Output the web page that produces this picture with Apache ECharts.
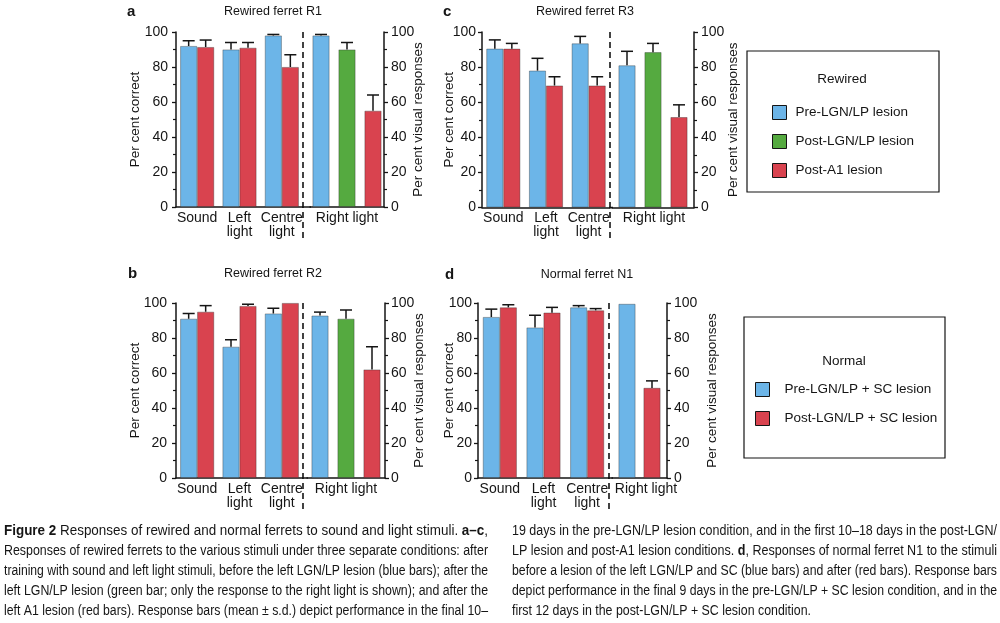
<!DOCTYPE html>
<html><head><meta charset="utf-8">
<script src="https://cdn.jsdelivr.net/npm/echarts@6/dist/echarts.min.js"></script>
<style>html,body{margin:0;padding:0;background:#fff}#chart{width:1000px;height:623px}</style>
</head><body><div id="chart"></div>
<script>
// ---------------- data ----------------
const categoriesLeft = ['Sound', 'Left\nlight', 'Centre\nlight'];
const categoriesRight = ['Right light'];
const rewiredNames = ['Pre-LGN/LP lesion', 'Post-LGN/LP lesion', 'Post-A1 lesion'];
const normalNames = ['Pre-LGN/LP + SC lesion', 'Post-LGN/LP + SC lesion'];
const yMin = 0, yMax = 100, yStep = 20;

// Panel a - Rewired ferret R1
const aPre = [92, 90, 98],     aPreSD = [3, 4, 0.6];
const aPost = [91.4, 91, 80],  aPostSD = [4, 3, 7];
const aRight = [98, 90, 55],   aRightSD = [0.6, 4, 9];
// Panel b - Rewired ferret R2
const bPre = [91, 75, 94],     bPreSD = [3, 4, 3];
const bPost = [95, 98.3, 100], bPostSD = [3.5, 1, 0];
const bRight = [92.8, 91, 62], bRightSD = [2, 5, 13];
// Panel c - Rewired ferret R3
const cPre = [90.5, 78, 93.5], cPreSD = [5, 7, 4];
const cPost = [90.5, 69.5, 69.5], cPostSD = [3, 5, 5];
const cRight = [81, 88.5, 51.5], cRightSD = [8, 5, 7];
// Panel d - Normal ferret N1
const dPre = [92, 86, 97.5],   dPreSD = [4.5, 7, 1];
const dPost = [97.5, 94.5, 95.8], dPostSD = [1.5, 3, 1];
const dRight = [99.5, 51.5],   dRightSD = [0, 4];

const captionLeft = [
  '{b|Figure 2} Responses of rewired and normal ferrets to sound and light stimuli. {b|a\u2013c},',
  'Responses of rewired ferrets to the various stimuli under three separate conditions: after',
  'training with sound and left light stimuli, before the left LGN/LP lesion (blue bars); after the',
  'left LGN/LP lesion (green bar; only the response to the right light is shown); and after the',
  'left A1 lesion (red bars). Response bars (mean \u00b1 s.d.) depict performance in the final 10\u2013'
];
const captionRight = [
  '19 days in the pre-LGN/LP lesion condition, and in the first 10\u201318 days in the post-LGN/',
  'LP lesion and post-A1 lesion conditions. {b|d}, Responses of normal ferret N1 to the stimuli',
  'before a lesion of the left LGN/LP and SC (blue bars) and after (red bars). Response bars',
  'depict performance in the final 9 days in the pre-LGN/LP + SC lesion condition, and in the',
  'first 12 days in the post-LGN/LP + SC lesion condition.'
];

// ---------------- styles / layout ----------------
const FONT = "'Liberation Sans', Arial, Helvetica, sans-serif";
const BLUE = '#6CB5E8', GREEN = '#55AA40', RED = '#D9434F';
const INK = '#151515';
const BAR_W = 17;

const panels = [
  { letter: 'a', title: 'Rewired ferret R1', names: rewiredNames, rightColors: [BLUE, GREEN, RED],
    pre: aPre, preSD: aPreSD, post: aPost, postSD: aPostSD, right: aRight, rightSD: aRightSD,
    L: 176, S: 303, R: 384, T: 32, H: 175, gapR: 9, inset: 7, labelPad: 0,
    letterPos: [127, 12], titlePos: [273, 12], dashEnd: 238, nameGapL: 34, nameGapR: 27, marginL: 8, marginR: 7 },
  { letter: 'b', title: 'Rewired ferret R2', names: rewiredNames, rightColors: [BLUE, GREEN, RED],
    pre: bPre, preSD: bPreSD, post: bPost, postSD: bPostSD, right: bRight, rightSD: bRightSD,
    L: 176, S: 303, R: 385, T: 303, H: 175, gapR: 9, inset: 4, labelPad: 0,
    letterPos: [128, 274], titlePos: [273, 274], dashEnd: 509, nameGapL: 34, nameGapR: 27, marginL: 9, marginR: 6 },
  { letter: 'c', title: 'Rewired ferret R3', names: rewiredNames, rightColors: [BLUE, GREEN, RED],
    pre: cPre, preSD: cPreSD, post: cPost, postSD: cPostSD, right: cRight, rightSD: cRightSD,
    L: 482, S: 610, R: 694, T: 32, H: 175.5, gapR: 9, inset: 2, labelPad: 2,
    letterPos: [443, 12], titlePos: [585, 12], dashEnd: 238, nameGapL: 26, nameGapR: 32, marginL: 6, marginR: 7 },
  { letter: 'd', title: 'Normal ferret N1', names: normalNames, rightColors: [BLUE, RED],
    pre: dPre, preSD: dPreSD, post: dPost, postSD: dPostSD, right: dRight, rightSD: dRightSD,
    L: 478, S: 609, R: 667, T: 303, H: 175, gapR: 8, inset: 3, labelPad: 13,
    letterPos: [445, 275], titlePos: [587, 275], dashEnd: 509, nameGapL: 22, nameGapR: 38, marginL: 6, marginR: 7 }
];

const axisLineStyle = { color: INK, width: 1.5 };
function yAxisCfg(gridIndex, position, name, nameGap, margin) {
  return {
    gridIndex, type: 'value', position, min: yMin, max: yMax, interval: yStep,
    name, nameLocation: 'middle', nameGap, nameRotate: 90, nameMoveOverlap: false,
    nameTextStyle: { fontFamily: FONT, fontSize: 13.5, color: INK },
    axisLine: { show: true, lineStyle: axisLineStyle },
    axisTick: { show: true, length: 4, lineStyle: { color: INK, width: 1.3 } },
    minorTick: { show: true, splitNumber: 2, length: 3, lineStyle: { color: INK, width: 1.2 } },
    splitLine: { show: false },
    axisLabel: { fontFamily: FONT, fontSize: 14, color: INK, margin }
  };
}
function xAxisCfg(gridIndex, data, labelPad) {
  return {
    gridIndex, type: 'category', data,
    axisLine: { show: true, lineStyle: axisLineStyle },
    axisTick: { show: false },
    axisLabel: { fontFamily: FONT, fontSize: 14, lineHeight: 14, color: INK, margin: 4, interval: 0,
      padding: [0, 0, 0, labelPad || 0] }
  };
}
function errRender(n, gapPx) {
  return function (params, api) {
    const sd = api.value(2);
    if (!(sd > 0)) return null;
    const slot = api.value(3);
    const base = api.coord([api.value(0), api.value(1)]);
    const top = api.coord([api.value(0), api.value(1) + sd]);
    const cx = base[0] + (slot - (n - 1) / 2) * (BAR_W + gapPx);
    const st = { stroke: INK, lineWidth: 1.5 };
    return { type: 'group', children: [
      { type: 'line', shape: { x1: cx, y1: base[1], x2: cx, y2: top[1] }, style: st },
      { type: 'line', shape: { x1: cx - 6, y1: top[1], x2: cx + 6, y2: top[1] }, style: st }
    ] };
  };
}
const barItem = c => ({ color: c, borderColor: 'rgba(40,40,40,0.45)', borderWidth: 0.8 });

const grids = [], xAxes = [], yAxes = [], series = [], graphics = [];
panels.forEach((p, k) => {
  const gl = 2 * k, gr = 2 * k + 1;
  const rs = p.S + p.inset;   // right section starts just after the divider
  grids.push({ left: p.L, top: p.T, width: p.S - p.L, height: p.H, containLabel: false, outerBoundsMode: 'none' });
  grids.push({ left: rs, top: p.T, width: p.R - rs, height: p.H, containLabel: false, outerBoundsMode: 'none' });
  xAxes.push(xAxisCfg(gl, categoriesLeft, 0));
  xAxes.push(xAxisCfg(gr, categoriesRight, p.labelPad));
  yAxes.push(yAxisCfg(gl, 'left', 'Per cent correct', p.nameGapL, p.marginL));
  yAxes.push(yAxisCfg(gr, 'right', 'Per cent visual responses', p.nameGapR, p.marginR));

  const lastName = p.names[p.names.length - 1];
  series.push({ type: 'bar', name: p.names[0], xAxisIndex: gl, yAxisIndex: gl, data: p.pre,
    barWidth: BAR_W, barGap: '0%', itemStyle: barItem(BLUE), silent: true });
  series.push({ type: 'bar', name: lastName, xAxisIndex: gl, yAxisIndex: gl, data: p.post,
    barWidth: BAR_W, barGap: '0%', itemStyle: barItem(RED), silent: true });
  const errL = [];
  p.pre.forEach((v, i) => errL.push([i, v, p.preSD[i], 0]));
  p.post.forEach((v, i) => errL.push([i, v, p.postSD[i], 1]));
  series.push({ type: 'custom', xAxisIndex: gl, yAxisIndex: gl, data: errL, renderItem: errRender(2, 0),
    encode: { x: 0, y: 1 }, z: 5, clip: false, silent: true });

  const n = p.right.length;
  const gapPct = (p.gapR / BAR_W * 100).toFixed(1) + '%';
  const errR = [];
  p.right.forEach((v, i) => {
    series.push({ type: 'bar', name: p.names[i], xAxisIndex: gr, yAxisIndex: gr, data: [v],
      barWidth: BAR_W, barGap: gapPct, itemStyle: barItem(p.rightColors[i]), silent: true });
    errR.push([0, v, p.rightSD[i], i]);
  });
  series.push({ type: 'custom', xAxisIndex: gr, yAxisIndex: gr, data: errR, renderItem: errRender(n, p.gapR),
    encode: { x: 0, y: 1 }, z: 5, clip: false, silent: true });

  // panel letter, title, dashed separator, axis-line join across the divider
  graphics.push({ type: 'text', x: p.letterPos[0], y: p.letterPos[1], silent: true,
    style: { text: p.letter, font: 'bold 15px ' + FONT, fill: INK, align: 'left', verticalAlign: 'middle' } });
  graphics.push({ type: 'text', x: p.titlePos[0], y: p.titlePos[1], silent: true,
    style: { text: p.title, font: '12.5px ' + FONT, fill: INK, align: 'center', verticalAlign: 'middle' } });
  graphics.push({ type: 'line', silent: true, shape: { x1: p.S, y1: p.T, x2: p.S, y2: p.dashEnd },
    style: { stroke: INK, lineWidth: 1.6, lineDash: [6, 4] } });
  graphics.push({ type: 'line', silent: true, shape: { x1: p.S - 1, y1: p.T + p.H, x2: rs + 1, y2: p.T + p.H },
    style: { stroke: INK, lineWidth: 1.5 } });
});

// legend boxes
graphics.push({ type: 'rect', silent: true, shape: { x: 747, y: 51, width: 192, height: 141 },
  style: { fill: 'none', stroke: INK, lineWidth: 1.2 } });
graphics.push({ type: 'text', x: 842, y: 79, silent: true,
  style: { text: 'Rewired', font: '13.5px ' + FONT, fill: INK, align: 'center', verticalAlign: 'middle' } });
graphics.push({ type: 'rect', silent: true, shape: { x: 744, y: 317, width: 201, height: 141 },
  style: { fill: 'none', stroke: INK, lineWidth: 1.2 } });
graphics.push({ type: 'text', x: 844, y: 361, silent: true,
  style: { text: 'Normal', font: '13.5px ' + FONT, fill: INK, align: 'center', verticalAlign: 'middle' } });

const legendBase = {
  orient: 'vertical', icon: 'rect', itemWidth: 14, itemHeight: 14, itemGap: 14, padding: 0,
  selectedMode: false,
  itemStyle: { borderColor: INK, borderWidth: 1 },
  textStyle: { fontFamily: FONT, fontSize: 13.5, color: INK }
};
const legends = [
  Object.assign({}, legendBase, { left: 772, top: 105, data: rewiredNames,
    textStyle: Object.assign({}, legendBase.textStyle, { padding: [0, 0, 0, 4] }) }),
  Object.assign({}, legendBase, { left: 755, top: 382, data: normalNames,
    textStyle: Object.assign({}, legendBase.textStyle, { padding: [0, 0, 0, 10] }) })
];

// caption (justified lines)
const ctx = document.createElement('canvas').getContext('2d');
function measure(line) {
  let w = 0; const re = /\{b\|([^}]*)\}|([^{]+)/g; let m;
  while ((m = re.exec(line))) {
    if (m[1] !== undefined) { ctx.font = 'bold 14px ' + FONT; w += ctx.measureText(m[1]).width; }
    else { ctx.font = '14px ' + FONT; w += ctx.measureText(m[2]).width; }
  }
  return w;
}
function addCaption(lines, x0, width, justifyLast) {
  const scales = lines.map(l => width / measure(l));
  const avg = scales.slice(0, -1).reduce((a, b) => a + b, 0) / (scales.length - 1);
  lines.forEach((l, i) => {
    const s = (i === lines.length - 1 && !justifyLast) ? avg : scales[i];
    graphics.push({ type: 'text', x: x0, y: 531 + 20 * i, scaleX: s, silent: true,
      style: { text: l, fontSize: 14, fontFamily: FONT, fill: INK, align: 'left', verticalAlign: 'middle',
        rich: { b: { fontWeight: 'bold', fontSize: 14, fontFamily: FONT, fill: INK } } } });
  });
}
addCaption(captionLeft, 4, 484, true);
addCaption(captionRight, 512, 485, false);

const chart = echarts.init(document.getElementById('chart'), null, { renderer: 'canvas' });
chart.setOption({
  animation: false,
  backgroundColor: '#fff',
  textStyle: { fontFamily: FONT },
  grid: grids, xAxis: xAxes, yAxis: yAxes, series,
  legend: legends,
  graphic: graphics
});
</script></body></html>
